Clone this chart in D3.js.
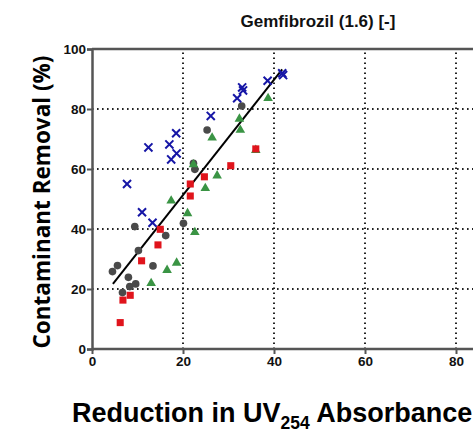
<!DOCTYPE html>
<html><head><meta charset="utf-8">
<script src="https://cdn.jsdelivr.net/npm/d3@7/dist/d3.min.js"></script>
<style>body{margin:0;background:#fff;overflow:hidden}svg{display:block}</style>
</head><body>
<script>
const title = "Gemfibrozil (1.6) [-]";
const xTicks = [0, 20, 40, 60, 80];
const yTicks = [0, 20, 40, 60, 80, 100];
const gridX = [20, 40, 60, 80];
const gridY = [20, 40, 60, 80];
// [UV254 reduction %, contaminant removal %]
const grayCircles = [[25.3,73],[32.9,81],[22.3,61.9],[22.6,59.9],[9.4,40.8],[20.1,41.9],[16.2,37.8],[10.2,32.8],[13.4,27.7],[5.6,27.8],[4.5,25.8],[8.0,23.9],[8.3,20.8],[9.6,21.7],[6.7,18.8]];
const greenTriangles = [[22.3,61.5],[26.4,70.4],[27.5,57.8],[24.9,53.6],[32.6,73],[32.4,76.7],[17.4,49.4],[38.7,83.6],[36.0,66.3],[21.0,45.2],[22.6,38.9],[18.6,28.7],[16.5,26.3],[13.0,21.9]];
const redSquares = [[6.8,16.3],[8.4,17.9],[6.2,8.8],[10.9,29.4],[14.5,34.7],[15.0,39.9],[21.6,55],[21.6,51],[24.7,57.4],[30.5,61.1],[36.0,66.7]];
const blueCrosses = [[7.7,55],[11.0,45.6],[12.4,67.2],[13.3,42.1],[17.0,68.2],[17.4,63.2],[18.5,71.9],[18.6,65.2],[26.1,77.7],[31.9,83.6],[33.0,87.2],[33.2,86.2],[38.6,89.4],[41.8,91.9],[42.0,91.3]];
const fitLine = [[4.6,21.7],[41.8,93.2]];

const W = 473, H = 433;
const svg = d3.select("body").append("svg").attr("width", W).attr("height", H);
const x = d3.scaleLinear().domain([0, 100]).range([92, 547]);
const y = d3.scaleLinear().domain([0, 100]).range([349, 49]);
const font = "Liberation Sans, Arial, sans-serif";

// grid
const grid = svg.append("g").attr("stroke", "#222").attr("stroke-width", 2)
  .attr("stroke-dasharray", "1.6,3.4").attr("stroke-linecap", "butt");
gridX.forEach(d => grid.append("line")
  .attr("x1", x(d)).attr("x2", x(d)).attr("y1", y(0)).attr("y2", y(100)));
gridY.forEach(d => grid.append("line")
  .attr("x1", x(0)).attr("x2", x(100)).attr("y1", y(d)).attr("y2", y(d)));

// top frame
svg.append("line").attr("x1", x(0)).attr("x2", x(100)).attr("y1", y(100)).attr("y2", y(100))
  .attr("stroke", "#555").attr("stroke-width", 2.5);

// axes
const xAxis = svg.append("g").attr("transform", `translate(0,${y(0)})`)
  .call(d3.axisBottom(x).tickValues(xTicks).tickSize(5).tickPadding(2).tickFormat(d3.format("d")));
const yAxis = svg.append("g").attr("transform", `translate(${x(0)},0)`)
  .call(d3.axisLeft(y).tickValues(yTicks).tickSize(5).tickPadding(1).tickFormat(d3.format("d")));
xAxis.select(".domain").attr("d", `M${x(0)},0H${x(100)}`);
[xAxis, yAxis].forEach(a => {
  a.select(".domain").attr("stroke", "#555").attr("stroke-width", 2.5);
  a.selectAll(".tick line").attr("stroke", "#555").attr("stroke-width", 2);
  a.selectAll(".tick text").attr("font-family", font).attr("font-weight", "bold")
    .attr("font-size", 13.5).attr("fill", "#111");
});

// fit line
svg.append("line").attr("x1", x(fitLine[0][0])).attr("y1", y(fitLine[0][1]))
  .attr("x2", x(fitLine[1][0])).attr("y2", y(fitLine[1][1]))
  .attr("stroke", "#000").attr("stroke-width", 2);

// markers
const sym = (type, size) => d3.symbol().type(type).size(size)();
svg.append("g").selectAll("path").data(grayCircles).join("path")
  .attr("d", sym(d3.symbolCircle, 46)).attr("fill", "#4a4a4a")
  .attr("transform", d => `translate(${x(d[0])},${y(d[1])})`);
svg.append("g").selectAll("path").data(greenTriangles).join("path")
  .attr("d", sym(d3.symbolTriangle, 40)).attr("fill", "#3a9444")
  .attr("transform", d => `translate(${x(d[0])},${y(d[1])})`);
svg.append("g").selectAll("path").data(redSquares).join("path")
  .attr("d", sym(d3.symbolSquare, 50)).attr("fill", "#e0141c")
  .attr("transform", d => `translate(${x(d[0])},${y(d[1])})`);
svg.append("g").selectAll("path").data(blueCrosses).join("path")
  .attr("d", sym(d3.symbolTimes, 44)).attr("fill", "none").attr("stroke", "#1616a6").attr("stroke-width", 2)
  .attr("transform", d => `translate(${x(d[0])},${y(d[1])})`);

// title & labels
svg.append("text").attr("x", 318).attr("y", 27).attr("text-anchor", "middle")
  .attr("font-family", font).attr("font-weight", "bold").attr("font-size", 17).attr("fill", "#111").text(title);
const xl = svg.append("text").attr("x", 72).attr("y", 422)
  .attr("font-family", font).attr("font-weight", "bold").attr("font-size", 27).attr("fill", "#000");
xl.append("tspan").text("Reduction in UV");
xl.append("tspan").attr("font-size", 17.5).attr("dy", 7).text("254");
xl.append("tspan").attr("dy", -7).text(" Absorbance (%)");
svg.append("text").attr("transform", "translate(50,202) rotate(-90)").attr("text-anchor", "middle")
  .attr("font-family", "Open Sans, sans-serif").attr("font-weight", "bold").attr("font-size", 22.5)
  .attr("fill", "#000").text("Contaminant Removal (%)");
</script>
</body></html>
